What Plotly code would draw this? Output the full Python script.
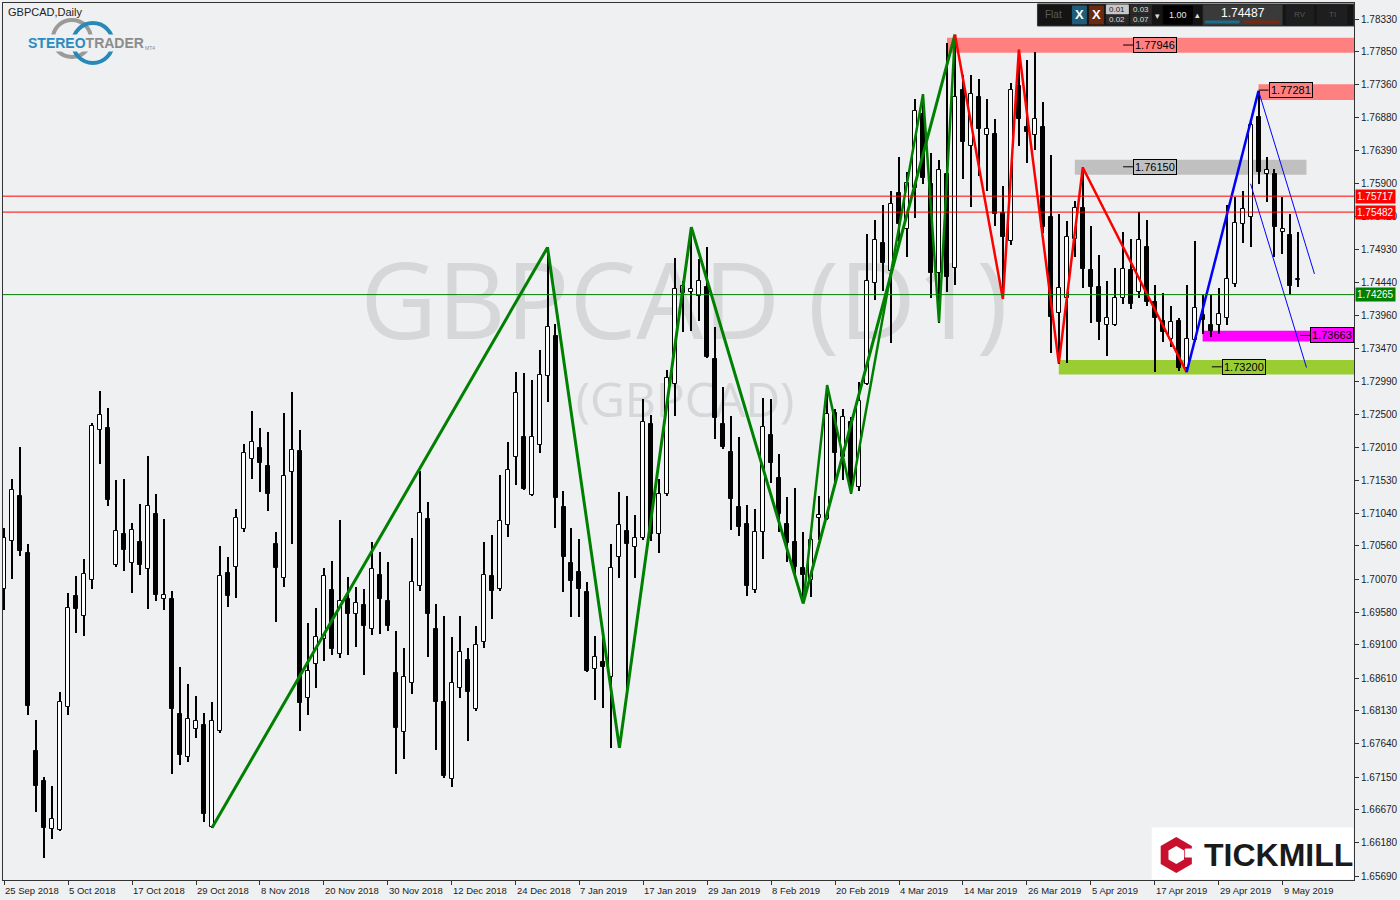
import plotly.graph_objects as go
import pandas as pd

# ---------------- data ----------------
holidays = ["2018-12-25", "2019-01-01"]
dates = [d for d in pd.bdate_range("2018-09-25", "2019-05-13")
         if d.strftime("%Y-%m-%d") not in holidays]

opens = [1.6993, 1.7063, 1.7130, 1.7046, 1.6753, 1.6709, 1.6639, 1.6637, 1.6818, 1.6982,
         1.6953, 1.7005, 1.7227, 1.7230, 1.7027, 1.7074, 1.7030, 1.7062, 1.7022, 1.7103,
         1.6977, 1.6978, 1.6808, 1.6744, 1.6786, 1.6791, 1.6642, 1.6783, 1.7016, 1.7025,
         1.7081, 1.7184, 1.7200, 1.7173, 1.7058, 1.7009, 1.7165, 1.7196, 1.6832, 1.6882,
         1.6919, 1.6991, 1.6896, 1.6977, 1.6956, 1.6968, 1.6933, 1.7013, 1.6975, 1.6868,
         1.6782, 1.6853, 1.6997, 1.7095, 1.6933, 1.6825, 1.6712, 1.6847, 1.6887, 1.6815,
         1.6914, 1.7012, 1.6993, 1.7086, 1.7187, 1.7217, 1.7131, 1.7205, 1.7307, 1.7366,
         1.7113, 1.7030, 1.7017, 1.6988, 1.6875, 1.6885, 1.6862, 1.7039, 1.7078, 1.7054,
         1.7068, 1.7235, 1.7073, 1.7132, 1.7295, 1.7429, 1.7430, 1.7424, 1.7437, 1.7332,
         1.7236, 1.7194, 1.7113, 1.7088, 1.6991, 1.7076, 1.7219, 1.7156, 1.7088, 1.7061,
         1.7023, 1.7005, 1.7097, 1.7096, 1.7252, 1.7187, 1.7239, 1.7143, 1.7295, 1.7443,
         1.7503, 1.7461, 1.7577, 1.7523, 1.7584, 1.7693, 1.7590, 1.7459, 1.7605, 1.7466,
         1.7729, 1.7646, 1.7718, 1.7662, 1.7663, 1.7547, 1.7506, 1.7734, 1.7674, 1.7662,
         1.7673, 1.7541, 1.7399, 1.7422, 1.7508, 1.7554, 1.7463, 1.7438, 1.7382, 1.7382,
         1.7421, 1.7463, 1.7430, 1.7497, 1.7415, 1.7387, 1.7361, 1.7388, 1.7319, 1.7360,
         1.7397, 1.7382, 1.7381, 1.7392, 1.7442, 1.7531, 1.7541, 1.7689, 1.7605, 1.7604,
         1.7519, 1.7515, 1.7448]
highs = [1.7083, 1.7155, 1.7202, 1.7058, 1.6799, 1.6715, 1.6702, 1.6841, 1.6986, 1.7011,
         1.7037, 1.7237, 1.7285, 1.7259, 1.7153, 1.7155, 1.7089, 1.7117, 1.7189, 1.7133,
         1.7095, 1.6990, 1.6877, 1.6852, 1.6834, 1.6810, 1.6826, 1.7055, 1.7039, 1.7111,
         1.7206, 1.7255, 1.7230, 1.7224, 1.7077, 1.7252, 1.7283, 1.7227, 1.6942, 1.6965,
         1.7023, 1.7033, 1.7094, 1.7010, 1.6995, 1.6993, 1.7062, 1.7047, 1.7032, 1.6930,
         1.6905, 1.7068, 1.7167, 1.7121, 1.6970, 1.6952, 1.6921, 1.6953, 1.6906, 1.6937,
         1.7062, 1.7072, 1.7161, 1.7209, 1.7313, 1.7311, 1.7300, 1.7345, 1.7496, 1.7383,
         1.7137, 1.7083, 1.7066, 1.7002, 1.6923, 1.6927, 1.7059, 1.7136, 1.7129, 1.7101,
         1.7273, 1.7249, 1.7155, 1.7316, 1.7481, 1.7446, 1.7526, 1.7479, 1.7496, 1.7378,
         1.7290, 1.7247, 1.7216, 1.7116, 1.7111, 1.7274, 1.7272, 1.7192, 1.7128, 1.7141,
         1.7077, 1.7076, 1.7129, 1.7293, 1.7258, 1.7258, 1.7246, 1.7297, 1.7516, 1.7537,
         1.7558, 1.7580, 1.7629, 1.7607, 1.7715, 1.7722, 1.7635, 1.7625, 1.7797, 1.7810,
         1.7751, 1.7750, 1.7744, 1.7715, 1.7685, 1.7587, 1.7738, 1.7788, 1.7772, 1.7785,
         1.7710, 1.7632, 1.7545, 1.7535, 1.7565, 1.7614, 1.7527, 1.7485, 1.7447, 1.7466,
         1.7519, 1.7508, 1.7548, 1.7536, 1.7440, 1.7429, 1.7410, 1.7392, 1.7441, 1.7506,
         1.7426, 1.7426, 1.7436, 1.7558, 1.7570, 1.7580, 1.7685, 1.7727, 1.7630, 1.7612,
         1.7570, 1.7546, 1.7519]
lows = [1.6961, 1.7007, 1.7041, 1.6807, 1.6664, 1.6595, 1.6624, 1.6636, 1.6807, 1.6927,
        1.6923, 1.6992, 1.7176, 1.7115, 1.7025, 1.7019, 1.6987, 1.7013, 1.6963, 1.6975,
        1.6961, 1.6719, 1.6732, 1.6737, 1.6773, 1.6649, 1.6640, 1.6780, 1.6966, 1.6979,
        1.7076, 1.7154, 1.7135, 1.7107, 1.6944, 1.6995, 1.7059, 1.6783, 1.6807, 1.6846,
        1.6886, 1.6895, 1.6891, 1.6895, 1.6907, 1.6866, 1.6925, 1.6926, 1.6931, 1.6720,
        1.6741, 1.6837, 1.6990, 1.6892, 1.6755, 1.6713, 1.6700, 1.6831, 1.6768, 1.6813,
        1.6906, 1.6948, 1.6990, 1.7069, 1.7146, 1.7139, 1.7129, 1.7193, 1.7268, 1.7083,
        1.6988, 1.6951, 1.6951, 1.6870, 1.6829, 1.6817, 1.6758, 1.7008, 1.6833, 1.7009,
        1.7064, 1.7063, 1.7046, 1.7130, 1.7248, 1.7372, 1.7373, 1.7388, 1.7333, 1.7214,
        1.7199, 1.7080, 1.7070, 1.6982, 1.6986, 1.7036, 1.7148, 1.7076, 1.7032, 1.7010,
        1.6972, 1.6981, 1.7064, 1.7094, 1.7145, 1.7153, 1.7133, 1.7137, 1.7293, 1.7418,
        1.7432, 1.7355, 1.7506, 1.7482, 1.7540, 1.7590, 1.7421, 1.7385, 1.7431, 1.7440,
        1.7597, 1.7555, 1.7602, 1.7580, 1.7528, 1.7420, 1.7499, 1.7646, 1.7621, 1.7640,
        1.7518, 1.7340, 1.7324, 1.7325, 1.7482, 1.7436, 1.7384, 1.7360, 1.7336, 1.7380,
        1.7413, 1.7406, 1.7422, 1.7410, 1.7312, 1.7357, 1.7349, 1.7314, 1.7312, 1.7356,
        1.7369, 1.7364, 1.7369, 1.7382, 1.7437, 1.7503, 1.7497, 1.7590, 1.7563, 1.7482,
        1.7487, 1.7426, 1.7438]
closes = [1.7068, 1.7138, 1.7049, 1.6820, 1.6702, 1.6640, 1.6653, 1.6825, 1.6965, 1.6963,
          1.7015, 1.7233, 1.7249, 1.7124, 1.7078, 1.7050, 1.7080, 1.7028, 1.7115, 1.6983,
          1.6984, 1.6816, 1.6748, 1.6801, 1.6798, 1.6660, 1.6797, 1.7011, 1.6982, 1.7097,
          1.7193, 1.7209, 1.7178, 1.7132, 1.7023, 1.7159, 1.7198, 1.6824, 1.6872, 1.6922,
          1.7012, 1.6904, 1.6975, 1.6956, 1.6971, 1.6938, 1.7022, 1.6977, 1.6938, 1.6788,
          1.6862, 1.7002, 1.7105, 1.6956, 1.6826, 1.6717, 1.6854, 1.6900, 1.6840, 1.6910,
          1.7013, 1.6990, 1.7093, 1.7168, 1.7281, 1.7140, 1.7217, 1.7308, 1.7379, 1.7127,
          1.7040, 1.7004, 1.6992, 1.6871, 1.6892, 1.6877, 1.7024, 1.7087, 1.7058, 1.7068,
          1.7238, 1.7073, 1.7133, 1.7303, 1.7435, 1.7439, 1.7435, 1.7447, 1.7334, 1.7244,
          1.7202, 1.7125, 1.7084, 1.6997, 1.7077, 1.7231, 1.7178, 1.7103, 1.7060, 1.7025,
          1.7013, 1.7064, 1.7102, 1.7251, 1.7193, 1.7246, 1.7148, 1.7269, 1.7447, 1.7507,
          1.7473, 1.7560, 1.7531, 1.7591, 1.7698, 1.7598, 1.7459, 1.7610, 1.7453, 1.7718,
          1.7652, 1.7722, 1.7671, 1.7671, 1.7545, 1.7512, 1.7729, 1.7685, 1.7666, 1.7685,
          1.7526, 1.7394, 1.7436, 1.7511, 1.7554, 1.7464, 1.7437, 1.7386, 1.7392, 1.7421,
          1.7464, 1.7413, 1.7507, 1.7415, 1.7392, 1.7371, 1.7386, 1.7319, 1.7361, 1.7407,
          1.7389, 1.7373, 1.7398, 1.7450, 1.7532, 1.7553, 1.7676, 1.7607, 1.7610, 1.7526,
          1.7523, 1.7439, 1.7449]

xtick_pos = list(range(0, 161, 8))
xtick_text = ["25 Sep 2018", "5 Oct 2018", "17 Oct 2018", "29 Oct 2018", "8 Nov 2018",
              "20 Nov 2018", "30 Nov 2018", "12 Dec 2018", "24 Dec 2018", "7 Jan 2019",
              "17 Jan 2019", "29 Jan 2019", "8 Feb 2019", "20 Feb 2019", "4 Mar 2019",
              "14 Mar 2019", "26 Mar 2019", "5 Apr 2019", "17 Apr 2019", "29 Apr 2019",
              "9 May 2019"]
ytick_vals = [1.78330, 1.77850, 1.77360, 1.76880, 1.76390, 1.75900, 1.75420, 1.74930,
              1.74440, 1.73960, 1.73470, 1.72990, 1.72500, 1.72010, 1.71530, 1.71040,
              1.70560, 1.70070, 1.69580, 1.69100, 1.68610, 1.68130, 1.67640, 1.67150,
              1.66670, 1.66180, 1.65690]

red_levels = [1.75717, 1.75482]
green_level = 1.74265
last_price = "1.74487"

zz_major_i = [26, 68, 77, 86, 100, 119]
zz_major_p = [1.6640, 1.7496, 1.6758, 1.7526, 1.6971, 1.7810]
zz_minor_i = [100, 103, 106, 115, 117, 119]
zz_minor_p = [1.6971, 1.7293, 1.7133, 1.7722, 1.7386, 1.7810]
zz_red_i = [119, 125, 127, 132, 135, 148]
zz_red_p = [1.7810, 1.7420, 1.7788, 1.7325, 1.7614, 1.7312]
zz_blue_i = [148, 157]
zz_blue_p = [1.7312, 1.7727]
fan_a_i = [157, 164]
fan_a_p = [1.7727, 1.7457]
fan_b_i = [156, 163]
fan_b_p = [1.7590, 1.7319]

zone_text = ["1.77946", "1.77281", "1.76150", "1.73663", "1.73200"]
zone_start = [118, 157, 134, 150, 132]
zone_end = [175, 175, 163, 175, 175]
zone_low = [1.77834, 1.77137, 1.76032, 1.73572, 1.73086]
zone_high = [1.78054, 1.77368, 1.76253, 1.73733, 1.73302]
zone_color = ["#FF8080", "#FF8080", "#C0C0C0", "#FF00FF", "#9ACD32"]
zone_label_left = [141.3, 158.25, 141.3, 163.45, 152.4]

# ---------------- geometry helpers (decoration only) ----------------
W, H = 1400, 900
ML, MR, MT, MB = 2, 45, 2, 20
XR = [-0.16, 168.95]
YR = [1.65631, 1.78566]
BG = "#EFF0F2"
FONT = "Liberation Sans, Arial, sans-serif"


def PX(px):
    return (px - ML) / (W - ML - MR)


def PY(py):
    return (H - MB - py) / (H - MT - MB)


def px_to_idx(px):
    return XR[0] + (px - ML) / (W - ML - MR) * (XR[1] - XR[0])


def py_to_price(py):
    return YR[1] - (py - MT) / (H - MT - MB) * (YR[1] - YR[0])


idx = list(range(len(opens)))
fig = go.Figure()

# watermark (base subplot, drawn beneath candles)
fig.add_trace(go.Scatter(
    x=[px_to_idx(684), px_to_idx(685)], y=[py_to_price(312), py_to_price(404)],
    mode="text", text=["GBPCAD (D1)", "(GBPCAD)"],
    textfont=dict(family="Open Sans, Noto Sans, sans-serif", size=[106, 48], color="#D5D7D9"),
    hoverinfo="skip", showlegend=False, xaxis="x", yaxis="y"))

# wicks
fig.add_trace(go.Bar(
    x=idx, y=[h - l for h, l in zip(highs, lows)], base=lows, width=0.13,
    marker=dict(color="black", line=dict(width=0)), showlegend=False,
    hoverinfo="skip", xaxis="x2", yaxis="y2"))
# bodies
body_base = [min(o, c) for o, c in zip(opens, closes)]
body_h = [max(abs(c - o), 0.00004) for o, c in zip(opens, closes)]
body_col = ["white" if c >= o else "black" for o, c in zip(opens, closes)]
fig.add_trace(go.Bar(
    x=idx, y=body_h, base=body_base, width=0.5,
    marker=dict(color=body_col, line=dict(color="black", width=1)),
    showlegend=False, hoverinfo="skip", xaxis="x2", yaxis="y2"))


def line(xs, ys, color, width):
    fig.add_trace(go.Scatter(x=xs, y=ys, mode="lines",
                             line=dict(color=color, width=width),
                             showlegend=False, hoverinfo="skip",
                             xaxis="x2", yaxis="y2"))


line(zz_major_i, zz_major_p, "#008000", 3)
line(zz_minor_i, zz_minor_p, "#008000", 2.5)
line(zz_red_i, zz_red_p, "#FF0000", 2.5)
line(zz_blue_i, zz_blue_p, "#0000FF", 2.5)
line(fan_a_i, fan_a_p, "#0000FF", 1)
line(fan_b_i, fan_b_p, "#0000FF", 1)

shapes = []
annotations = []

# zones
for t, x0, x1, lo, hi, col, lx in zip(zone_text, zone_start, zone_end, zone_low,
                                      zone_high, zone_color, zone_label_left):
    shapes.append(dict(type="rect", xref="x", yref="y", x0=x0, x1=x1, y0=lo, y1=hi,
                       fillcolor=col, line=dict(width=0), layer="below"))
    val = float(t)
    shapes.append(dict(type="line", xref="x", yref="y", x0=lx - 1.25, x1=lx,
                       y0=val, y1=val, line=dict(color="black", width=1)))
    annotations.append(dict(x=lx, y=val, xref="x", yref="y", text=t, showarrow=False,
                            xanchor="left", yanchor="middle", bgcolor=col,
                            bordercolor="black", borderwidth=1, borderpad=1,
                            font=dict(family=FONT, size=11, color="black")))

# horizontal levels
for lv in red_levels:
    shapes.append(dict(type="line", xref="paper", yref="y", x0=0, x1=1, y0=lv, y1=lv,
                       line=dict(color="#FF0000", width=1)))
    annotations.append(dict(x=1, y=lv, xref="paper", yref="y", text=f"{lv:.5f}",
                            showarrow=False, xanchor="left", yanchor="middle", xshift=1,
                            bgcolor="#FF0000", borderpad=1,
                            font=dict(family=FONT, size=10, color="white")))
shapes.append(dict(type="line", xref="paper", yref="y", x0=0, x1=1, y0=green_level,
                   y1=green_level, line=dict(color="#008000", width=1)))
annotations.append(dict(x=1, y=green_level, xref="paper", yref="y", text=f"{green_level:.5f}",
                        showarrow=False, xanchor="left", yanchor="middle", xshift=1,
                        bgcolor="#008000", borderpad=1,
                        font=dict(family=FONT, size=10, color="white")))

# date labels
for p, t in zip(xtick_pos, xtick_text):
    annotations.append(dict(x=p, y=0, xref="x", yref="paper", text=t, showarrow=False,
                            xanchor="left", yanchor="top", xshift=-1, yshift=-3,
                            font=dict(family=FONT, size=9.5, color="#222")))

# title
annotations.append(dict(x=PX(5), y=PY(11), xref="paper", yref="paper", text="GBPCAD,Daily",
                        showarrow=False, xanchor="left", yanchor="middle",
                        font=dict(family=FONT, size=11, color="#222")))

# StereoTrader logo
shapes.append(dict(type="circle", xref="paper", yref="paper", x0=PX(52), x1=PX(90),
                   y0=PY(56), y1=PY(19), line=dict(color="#9a9a9a", width=4)))
shapes.append(dict(type="circle", xref="paper", yref="paper", x0=PX(72), x1=PX(112),
                   y0=PY(62), y1=PY(22), line=dict(color="#2789b8", width=4)))
annotations.append(dict(x=PX(26), y=PY(42), xref="paper", yref="paper",
                        text="<b><span style='color:#2a8bbf'>STEREO</span>"
                             "<span style='color:#8c8c8c'>TRADER</span></b>",
                        showarrow=False, xanchor="left", yanchor="middle", bgcolor=BG,
                        borderpad=0,
                        font=dict(family=FONT, size=14)))
annotations.append(dict(x=PX(142), y=PY(47), xref="paper", yref="paper", text="MT4",
                        showarrow=False, xanchor="left", yanchor="middle",
                        font=dict(family=FONT, size=5, color="#8c8c8c")))


# toolbar
def prect(x0, x1, y0, y1, fill, lc=None):
    shapes.append(dict(type="rect", xref="paper", yref="paper", x0=PX(x0), x1=PX(x1),
                       y0=PY(y1), y1=PY(y0), fillcolor=fill,
                       line=dict(color=lc or fill, width=1)))


def ptext(x, y, t, size, color, anchor="center", bold=False):
    annotations.append(dict(x=PX(x), y=PY(y), xref="paper", yref="paper",
                            text=f"<b>{t}</b>" if bold else t, showarrow=False,
                            xanchor=anchor, yanchor="middle",
                            font=dict(family=FONT, size=size, color=color)))


prect(1038, 1355, 3, 25, "#141414", "#3a3a3a")
ptext(1054, 14, "Flat", 10, "#5c5c5c")
prect(1073, 1087, 5, 23, "#1f5d7a")
ptext(1080, 14, "X", 13, "white", bold=True)
prect(1090, 1104, 5, 23, "#6b2a12")
ptext(1097, 14, "X", 13, "white", bold=True)
prect(1107, 1129, 4, 13, "#c8c8c8")
ptext(1118, 8.5, "0.01", 8, "#222")
prect(1107, 1129, 14, 23, "#2a2a2a")
ptext(1118, 18.5, "0.02", 8, "#ddd")
prect(1131, 1152, 4, 13, "#2a2a2a")
ptext(1141.5, 8.5, "0.03", 8, "#ddd")
prect(1131, 1152, 14, 23, "#2a2a2a")
ptext(1141.5, 18.5, "0.07", 8, "#ddd")
ptext(1158, 15, "▾", 9, "#ddd")
prect(1164, 1193, 5, 23, "#000000")
ptext(1178.5, 14, "1.00", 9, "#e8e8e8")
ptext(1198, 14, "▴", 9, "#ddd")
prect(1204, 1283, 4, 24, "#3a3a3a")
ptext(1243.5, 12.5, last_price, 12, "white")
prect(1206, 1240, 20, 22, "#1c6f8c")
prect(1246, 1280, 20, 22, "#7a2a10")
prect(1287, 1315, 4, 24, "#1e1e1e")
ptext(1301, 14, "RV", 8, "#555")
prect(1318, 1348, 4, 24, "#1e1e1e")
ptext(1333, 14, "TI", 8, "#555")

# Tickmill logo
prect(1153, 1354, 828, 879, "white")
cx, cy, r = 1177, 855, 18
hexa = [(cx + r * 0.866 * s, cy + r * t) for s, t in
        [(0, -1), (1, -0.5), (1, 0.5), (0, 1), (-1, 0.5), (-1, -0.5)]]
path = "M " + " L ".join(f"{PX(a)},{PY(b)}" for a, b in hexa) + " Z"
shapes.append(dict(type="path", xref="paper", yref="paper", path=path,
                   fillcolor="#C8102E", line=dict(width=0)))
r2 = 9
hexb = [(cx + r2 * 0.866 * s, cy + r2 * t) for s, t in
        [(0, -1), (1, -0.5), (1, 0.5), (0, 1), (-1, 0.5), (-1, -0.5)]]
path2 = "M " + " L ".join(f"{PX(a)},{PY(b)}" for a, b in hexb) + " Z"
shapes.append(dict(type="path", xref="paper", yref="paper", path=path2,
                   fillcolor="white", line=dict(width=0)))
prect(1186, 1196, 849, 857, "white")
ptext(1203, 855, "TICKMILL", 32, "#1a1a1a", anchor="left", bold=True)

fig.update_layout(
    width=W, height=H, margin=dict(l=ML, r=MR, t=MT, b=MB),
    paper_bgcolor=BG, plot_bgcolor=BG, barmode="overlay", bargap=0,
    showlegend=False, shapes=shapes, annotations=annotations,
    xaxis=dict(range=XR, showgrid=False, zeroline=False, tickvals=xtick_pos,
               showticklabels=False, ticks="outside", ticklen=4, tickcolor="#333",
               showline=True, mirror=True, linecolor="#333", linewidth=1),
    yaxis=dict(range=YR, side="right", showgrid=False, zeroline=False,
               tickvals=ytick_vals, ticktext=[f"{v:.5f}" for v in ytick_vals],
               ticks="outside", ticklen=4, tickcolor="#333",
               tickfont=dict(family=FONT, size=10, color="#222"),
               showline=True, mirror=True, linecolor="#333", linewidth=1),
    xaxis2=dict(overlaying="x", matches="x", visible=False, range=XR),
    yaxis2=dict(overlaying="y", matches="y", visible=False, range=YR),
)

fig.write_html("out.html", config={"displayModeBar": False},
               post_script="document.body.style.margin='0';document.body.style.padding='0';")
